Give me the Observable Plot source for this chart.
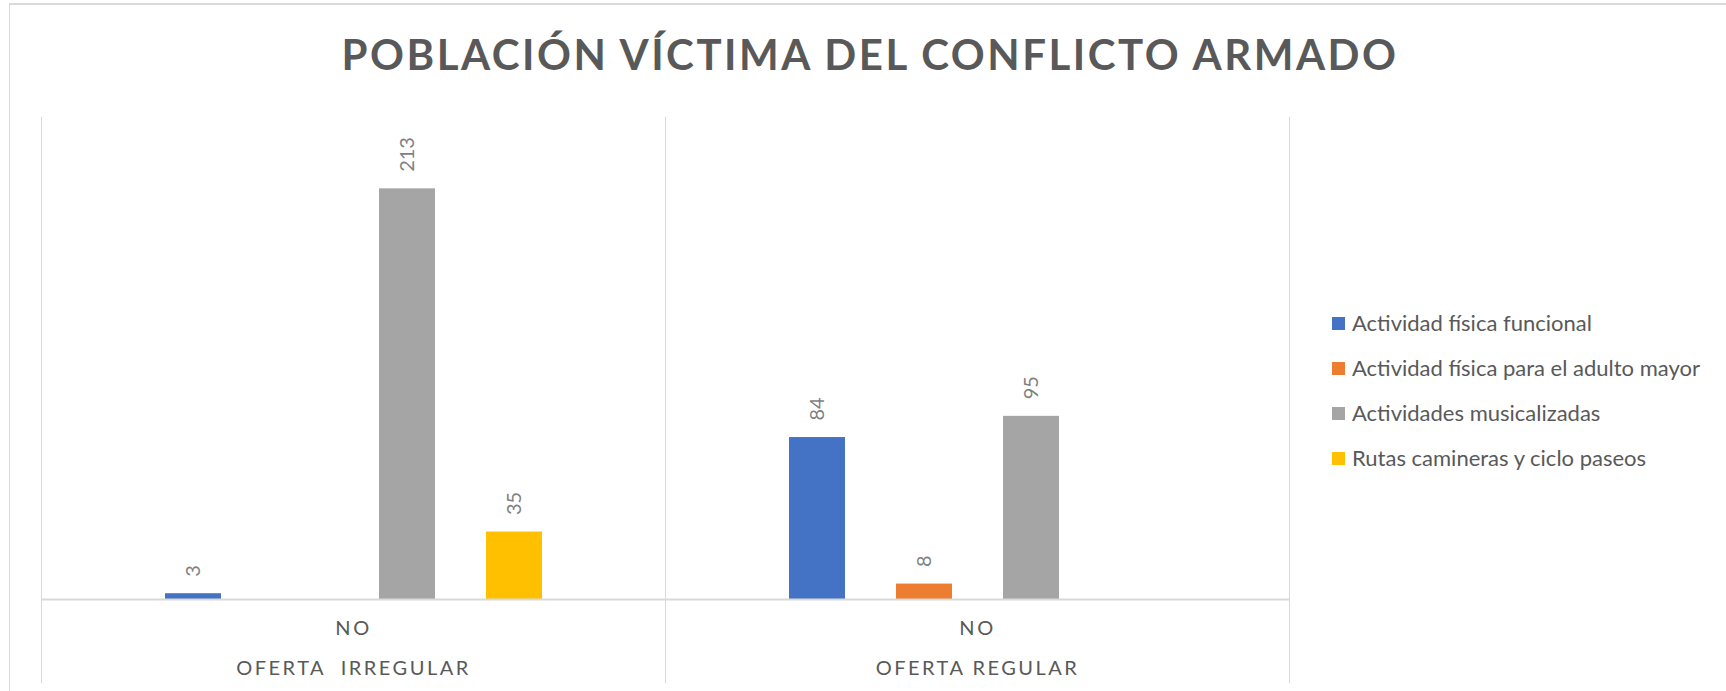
<!DOCTYPE html>
<html><head><meta charset="utf-8">
<script src="https://cdn.jsdelivr.net/npm/d3@7"></script>
<script src="https://cdn.jsdelivr.net/npm/@observablehq/plot@0.6"></script>
<style>
body{margin:0;background:#fff;font-family:Lato, "Open Sans", sans-serif;}
#wrap{position:relative;width:1726px;height:691px;overflow:hidden;background:#fff;}
#border{position:absolute;left:9px;top:3px;width:2000px;height:2000px;border-left:1.5px solid #d9d9d9;border-top:2px solid #d9d9d9;box-sizing:border-box;}
#title{position:absolute;top:33px;left:870px;transform:translateX(-50%);font:bold 42px Lato, sans-serif;line-height:42px;color:#595959;white-space:nowrap;}
#legend{position:absolute;left:1332px;top:312px;}
.row{display:flex;align-items:center;height:22px;margin-bottom:23px;font-size:22px;line-height:22px;color:#595959;white-space:nowrap;}
.sw{width:13px;height:13px;margin-right:7px;flex:none;}
#chart{position:absolute;left:0;top:0;}
#chart text{white-space:pre;}
.ticklab text{letter-spacing:2.5px;}
</style>
</head><body>
<div id="wrap">
  <div id="border"></div>
  <div id="chart"></div>
  <div id="title">POBLACIÓN VÍCTIMA DEL CONFLICTO ARMADO</div>
  <div id="legend"></div>
</div>
<script>
const groups = ["OFERTA  IRREGULAR", "OFERTA REGULAR"];
const category = "NO";
const series = ["Actividad física funcional", "Actividad física para el adulto mayor", "Actividades musicalizadas", "Rutas camineras y ciclo paseos"];
const colors = ["#4472C4", "#ED7D31", "#A5A5A5", "#FFC000"];
const irregularValues = [3, null, 213, 35];
const regularValues = [84, 8, 95, null];

const table = [irregularValues, regularValues];
const data = [];
groups.forEach((g, gi) => series.forEach((s, si) => {
  const v = table[gi][si];
  if (v != null) data.push({group: g, series: s, value: v});
}));

const chart = Plot.plot({
  width: 1726, height: 691,
  marginTop: 117, marginBottom: 92, marginLeft: 41, marginRight: 437,
  fx: {domain: groups, padding: 0, axis: null},
  x: {domain: series, paddingInner: 0.477, paddingOuter: 1.154, axis: null},
  y: {domain: [0, 250], axis: null},
  color: {domain: series, range: colors},
  style: {fontFamily: "Lato, sans-serif", background: "transparent", overflow: "visible"},
  marks: [
    Plot.frame({anchor: "left", stroke: "#d9d9d9", insetBottom: -83}),
    Plot.frame({anchor: "right", stroke: "#d9d9d9", insetBottom: -83}),
    Plot.barY(data, {fx: "group", x: "series", y: "value", fill: "series"}),
    Plot.ruleY([0], {stroke: "#d9d9d9", strokeWidth: 2}),
    Plot.text(data, {fx: "group", x: "series", y: "value", text: d => String(d.value), rotate: -90, textAnchor: "start", dy: -17, fill: "#7f7f7f", fontSize: 20}),
    Plot.axisFx({anchor: "bottom", tickSize: 0, tickPadding: 21, tickFormat: () => category, fontSize: 20, fill: "#595959", className: "ticklab", label: null}),
    Plot.axisFx({anchor: "bottom", tickSize: 0, tickPadding: 61, tickFormat: d => d, fontSize: 20, fill: "#595959", className: "ticklab", label: null})
  ]
});
document.getElementById("chart").appendChild(chart);

// title letter spacing to match width
const title = document.getElementById("title");
const w0 = title.getBoundingClientRect().width;
const n = title.textContent.length;
title.style.letterSpacing = ((1057 - w0) / n) + "px";

const legend = document.getElementById("legend");
series.forEach((s, i) => {
  const row = document.createElement("div");
  row.className = "row";
  const sw = document.createElement("div");
  sw.className = "sw";
  sw.style.background = colors[i];
  const t = document.createElement("span");
  t.textContent = s;
  row.appendChild(sw); row.appendChild(t);
  legend.appendChild(row);
});
</script>
</body></html>
